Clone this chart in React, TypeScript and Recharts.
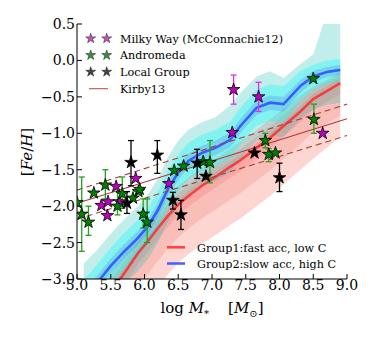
import React from 'react';
import { ComposedChart, Area, Line, Scatter, XAxis, YAxis, ErrorBar, ReferenceLine } from 'recharts';

// ---- model band grid ----
const gridX = [5.1, 5.3, 5.5, 5.7, 5.9, 6.05, 6.2, 6.35, 6.5, 6.65, 6.85, 7.05, 7.27, 7.42, 7.66, 7.86, 8.06, 8.31, 8.5, 8.7, 8.9];

// Group2 (blue): slow acc, high C
const bMed = [-3.26, -3.05, -2.82, -2.62, -2.44, -2.28, -2.05, -1.76, -1.54, -1.38, -1.27, -1.2, -1.09, -0.9, -0.65, -0.58, -0.6, -0.35, -0.22, -0.16, -0.13];
const bOutLo = [-3.71, -3.5, -3.27, -3.07, -2.89, -2.73, -2.5, -2.21, -1.99, -1.83, -1.72, -1.65, -1.54, -1.35, -1.1, -1.03, -1.05, -0.8, -0.67, -0.61, -0.58];
const bOutHi = [-2.79, -2.6, -2.38, -2.18, -2.0, -1.84, -1.62, -1.32, -1.1, -0.95, -0.85, -0.78, -0.62, -0.45, -0.22, -0.15, -0.24, -0.05, 0.08, 0.65, 1.0];
const bMidLo = [-3.51, -3.3, -3.07, -2.87, -2.69, -2.53, -2.3, -2.01, -1.79, -1.63, -1.52, -1.45, -1.34, -1.15, -0.9, -0.83, -0.85, -0.55, -0.4, -0.32, -0.28];
const bMidHi = [-3.01, -2.8, -2.57, -2.37, -2.19, -2.03, -1.8, -1.51, -1.29, -1.13, -1.02, -0.95, -0.84, -0.65, -0.4, -0.33, -0.35, -0.15, -0.06, 0.0, 0.02];
const bInLo = [-3.36, -3.15, -2.92, -2.72, -2.54, -2.38, -2.15, -1.86, -1.64, -1.48, -1.37, -1.3, -1.19, -1.0, -0.75, -0.68, -0.7, -0.44, -0.3, -0.23, -0.2];
const bInHi = [-3.16, -2.95, -2.72, -2.52, -2.34, -2.18, -1.95, -1.66, -1.44, -1.28, -1.17, -1.1, -0.99, -0.8, -0.55, -0.48, -0.5, -0.27, -0.14, -0.09, -0.06];

// Group1 (red): fast acc, low C
const rMed = [-3.75, -3.45, -3.18, -2.92, -2.65, -2.48, -2.3, -2.13, -1.98, -1.86, -1.72, -1.6, -1.46, -1.37, -1.2, -1.06, -0.9, -0.7, -0.53, -0.42, -0.31];
const rOutLo = [-4.55, -4.25, -3.98, -3.72, -3.45, -3.28, -3.1, -2.93, -2.78, -2.66, -2.52, -2.4, -2.26, -2.17, -2.0, -1.86, -1.7, -1.5, -1.35, -1.2, -1.05];
const rOutHi = [-3.5, -3.2, -2.93, -2.67, -2.4, -2.23, -2.05, -1.88, -1.73, -1.61, -1.47, -1.35, -1.21, -1.12, -0.95, -0.81, -0.66, -0.48, -0.36, -0.27, -0.16];
const rMidLo = [-4.2, -3.9, -3.63, -3.37, -3.1, -2.93, -2.75, -2.58, -2.43, -2.31, -2.17, -2.05, -1.91, -1.82, -1.65, -1.51, -1.35, -1.15, -0.98, -0.87, -0.76];
const rMidHi = [-3.6, -3.3, -3.03, -2.77, -2.5, -2.33, -2.15, -1.98, -1.83, -1.71, -1.57, -1.45, -1.31, -1.22, -1.05, -0.91, -0.75, -0.55, -0.4, -0.3, -0.2];
const rInLo = [-3.9, -3.6, -3.33, -3.07, -2.8, -2.63, -2.45, -2.28, -2.13, -2.01, -1.87, -1.75, -1.61, -1.52, -1.35, -1.21, -1.05, -0.85, -0.68, -0.57, -0.46];
const rInHi = [-3.68, -3.38, -3.11, -2.85, -2.58, -2.41, -2.23, -2.06, -1.91, -1.79, -1.65, -1.53, -1.39, -1.3, -1.13, -0.99, -0.83, -0.63, -0.46, -0.35, -0.24];

// ---- observations ----
const mwX = [7.32, 7.69, 7.3, 8.64, 6.36, 5.87, 5.58, 5.36, 5.46, 5.45, 5.63];
const mwY = [-0.4, -0.5, -0.99, -1.0, -1.69, -1.62, -1.73, -1.99, -1.94, -2.13, -1.94];
const mwLo = [-0.6, -0.7, null, null, null, null, null, null, null, null, null];
const mwHi = [-0.2, -0.3, null, null, null, null, null, null, null, null, null];

const andX = [8.5, 8.51, 7.79, 7.84, 7.94, 6.87, 6.97, 6.58, 6.44, 5.98, 6.04, 5.07, 5.17, 5.25, 5.42, 5.6, 5.67, 5.83, 5.91, 5.93, 5.0];
const andY = [-0.25, -0.81, -1.1, -1.29, -1.27, -1.39, -1.4, -1.45, -1.51, -2.11, -2.22, -2.11, -2.22, -1.82, -1.71, -2.0, -1.83, -1.89, -1.8, -1.77, -1.95];
const andLo = [null, -1.0, -1.2, -1.39, null, null, -1.68, null, null, -2.3, -2.5, -2.62, -2.4, null, -1.9, -2.12, -2.03, null, null, null, null];
const andHi = [null, -0.6, -1.0, -1.21, null, null, -1.1, null, null, -1.9, -1.9, -1.6, -2.0, null, -1.5, -1.8, -1.6, null, null, null, null];

const lgX = [6.19, 5.8, 5.74, 6.42, 6.54, 6.78, 6.91, 7.63, 8.0];
const lgY = [-1.3, -1.4, -1.96, -1.92, -2.12, -1.41, -1.59, -1.27, -1.61];
const lgLo = [-1.55, -1.72, -2.1, -2.04, -2.32, -1.62, null, null, -1.8];
const lgHi = [-1.1, -1.1, -1.8, -1.81, -1.92, -1.22, null, null, -1.41];

// Kirby13 relation
const kirbyX = [5.0, 9.0];
const kirbyMid = [-1.96, -0.8];
const kirbyUp = [-1.78, -0.6];
const kirbyDn = [-2.18, -1.03];

const xTicks = [5.0, 5.5, 6.0, 6.5, 7.0, 7.5, 8.0, 8.5, 9.0];
const yTicks = [-3.0, -2.5, -2.0, -1.5, -1.0, -0.5, 0.0, 0.5];

const table = gridX.map((x, i) => ({
  x,
  bOut: [bOutLo[i], bOutHi[i]],
  bMid: [bMidLo[i], bMidHi[i]],
  bIn: [bInLo[i], bInHi[i]],
  bMed: bMed[i],
  rOut: [rOutLo[i], rOutHi[i]],
  rMid: [rMidLo[i], rMidHi[i]],
  rIn: [rInLo[i], rInHi[i]],
  rMed: rMed[i],
}));

type Pt = { x: number; y: number; err?: number[] };
const points = (xs: number[], ys: number[], lo: (number | null)[], hi: (number | null)[]): Pt[] =>
  xs.map((x, i) => {
    const p: Pt = { x, y: ys[i] };
    if (lo[i] != null && hi[i] != null) p.err = [ys[i] - (lo[i] as number), (hi[i] as number) - ys[i]];
    return p;
  });

const mwPts = points(mwX, mwY, mwLo, mwHi);
const andPts = points(andX, andY, andLo, andHi);
const lgPts = points(lgX, lgY, lgLo, lgHi);

const FONT = 'DejaVu Serif';
const MW_C = '#bf00bf';
const AND_C = '#008000';
const LG_C = '#000000';

const starPath = (cx: number, cy: number, R: number) => {
  const r = R * 0.382;
  let d = '';
  for (let i = 0; i < 10; i++) {
    const a = -Math.PI / 2 + (i * Math.PI) / 5;
    const rad = i % 2 === 0 ? R : r;
    d += (i === 0 ? 'M' : 'L') + (cx + rad * Math.cos(a)).toFixed(2) + ',' + (cy + rad * Math.sin(a)).toFixed(2);
  }
  return d + 'Z';
};

const starShape = (fill: string) => (props: any) => {
  if (props.cx == null || props.cy == null) return <g />;
  return <path d={starPath(props.cx, props.cy, 6.6)} fill={fill} stroke="#000" strokeWidth={0.8} />;
};
const noShape = () => <g />;

const fmt = (v: number) => (v < 0 ? '\u2212' : '') + Math.abs(v).toFixed(1);

const kirbySeg = (ys: number[]) => [
  { x: kirbyX[0], y: ys[0] },
  { x: kirbyX[1], y: ys[1] },
];

export default function App() {
  const tickStyle = { fill: '#000', fontSize: 14, fontFamily: FONT };
  return (
    <div style={{ position: 'relative', width: 374, height: 340, margin: '-8px 0 0 -8px', background: '#fff' }}>
      <ComposedChart width={374} height={340} data={table} margin={{ top: 24, right: 27, bottom: 21, left: 17 }}>
        <XAxis type="number" dataKey="x" domain={[5, 9]} ticks={xTicks} allowDataOverflow tickFormatter={fmt}
          tickSize={-5} tickMargin={6} height={40} stroke="#000" tick={tickStyle} interval={0} />
        <XAxis xAxisId="top" orientation="top" type="number" dataKey="x" domain={[5, 9]} ticks={xTicks} allowDataOverflow
          tickFormatter={() => ''} tickSize={-5} height={0} stroke="#000" interval={0} />
        <YAxis type="number" dataKey="y" domain={[-3, 0.5]} ticks={yTicks} allowDataOverflow tickFormatter={fmt}
          tickSize={-5} tickMargin={7} width={60} stroke="#000" tick={tickStyle} interval={0} />
        <YAxis yAxisId="right" orientation="right" type="number" domain={[-3, 0.5]} ticks={yTicks} allowDataOverflow
          tickFormatter={() => ''} tickSize={-5} width={0} stroke="#000" interval={0} />

        <Area type="linear" dataKey="rOut" stroke="none" fill="#fa8072" fillOpacity={0.32} isAnimationActive={false} />
        <Area type="linear" dataKey="rMid" stroke="none" fill="#f26a5e" fillOpacity={0.22} isAnimationActive={false} />
        <Area type="linear" dataKey="rIn" stroke="none" fill="#f05050" fillOpacity={0.18} isAnimationActive={false} />
        <Area type="linear" dataKey="bOut" stroke="none" fill="#20c0b8" fillOpacity={0.28} isAnimationActive={false} />
        <Area type="linear" dataKey="bMid" stroke="none" fill="#00ffff" fillOpacity={0.32} isAnimationActive={false} />
        <Area type="linear" dataKey="bIn" stroke="none" fill="#4169e1" fillOpacity={0.22} isAnimationActive={false} />
        <Line type="linear" dataKey="rMed" stroke="#ff2a2a" strokeOpacity={0.85} strokeWidth={2.6} dot={false} isAnimationActive={false} />
        <Line type="linear" dataKey="bMed" stroke="#2a4bff" strokeOpacity={0.85} strokeWidth={2.6} dot={false} isAnimationActive={false} />

        <ReferenceLine segment={kirbySeg(kirbyMid)} stroke="#b03a3a" strokeWidth={1.1} />
        <ReferenceLine segment={kirbySeg(kirbyUp)} stroke="#b03a3a" strokeWidth={1.1} strokeDasharray="6 4" />
        <ReferenceLine segment={kirbySeg(kirbyDn)} stroke="#b03a3a" strokeWidth={1.1} strokeDasharray="6 4" />

        <Scatter data={mwPts.filter((p) => p.err)} shape={noShape} isAnimationActive={false}>
          <ErrorBar dataKey="err" direction="y" width={3} stroke="#dd33dd" strokeWidth={1.3} />
        </Scatter>
        <Scatter data={andPts.filter((p) => p.err)} shape={noShape} isAnimationActive={false}>
          <ErrorBar dataKey="err" direction="y" width={3} stroke="#22a022" strokeWidth={1.3} />
        </Scatter>
        <Scatter data={lgPts.filter((p) => p.err)} shape={noShape} isAnimationActive={false}>
          <ErrorBar dataKey="err" direction="y" width={3} stroke="#000" strokeWidth={1.3} />
        </Scatter>

        <Scatter data={mwPts} shape={starShape(MW_C)} isAnimationActive={false} />
        <Scatter data={andPts} shape={starShape(AND_C)} isAnimationActive={false} />
        <Scatter data={lgPts} shape={starShape(LG_C)} isAnimationActive={false} />
      </ComposedChart>

      <svg width={374} height={340} style={{ position: 'absolute', left: 0, top: 0, pointerEvents: 'none' }}
        fontFamily={FONT}>
        {/* upper-left legend */}
        {[
          { c: '#c84ac8', label: 'Milky Way (McConnachie12)', y: 38.5 },
          { c: '#3a8f3a', label: 'Andromeda', y: 55.2 },
          { c: '#444444', label: 'Local Group', y: 71.9 },
        ].map((r) => (
          <g key={r.label}>
            <path d={starPath(90.7, r.y, 5.2)} fill={r.c} stroke="#333" strokeWidth={0.6} />
            <path d={starPath(106.7, r.y, 5.2)} fill={r.c} stroke="#333" strokeWidth={0.6} />
            <text x={120} y={r.y + 4} fontSize={11.2} fill="#000">{r.label}</text>
          </g>
        ))}
        <line x1={89} y1={88.7} x2={108} y2={88.7} stroke="#c05050" strokeWidth={1.1} />
        <text x={120} y={92.9} fontSize={11.2} fill="#000">Kirby13</text>

        {/* lower-right legend */}
        <line x1={167} y1={247.3} x2={185} y2={247.3} stroke="#ff2a2a" strokeOpacity={0.85} strokeWidth={2.6} />
        <text x={197} y={251.5} fontSize={11.2} fill="#000">Group1:fast acc, low C</text>
        <line x1={167} y1={263.5} x2={185} y2={263.5} stroke="#2a4bff" strokeOpacity={0.85} strokeWidth={2.6} />
        <text x={197} y={267.7} fontSize={11.2} fill="#000">Group2:slow acc, high C</text>

        {/* axis labels */}
        <text x={212} y={313} fontSize={15} textAnchor="middle" fill="#000">
          log <tspan fontStyle="italic">M</tspan><tspan fontSize={10} dy={4}>*</tspan>
          <tspan dy={-4}>{'\u00a0\u00a0\u00a0\u00a0['}</tspan><tspan fontStyle="italic">M</tspan>
          <tspan fontSize={10} dy={4}>{'\u2299'}</tspan><tspan dy={-4}>]</tspan>
        </text>
        <text x={0} y={0} fontSize={15} textAnchor="middle" fill="#000" transform="translate(32,152) rotate(-90)">
          [<tspan fontStyle="italic">Fe</tspan>/<tspan fontStyle="italic">H</tspan>]
        </text>
      </svg>
    </div>
  );
}
